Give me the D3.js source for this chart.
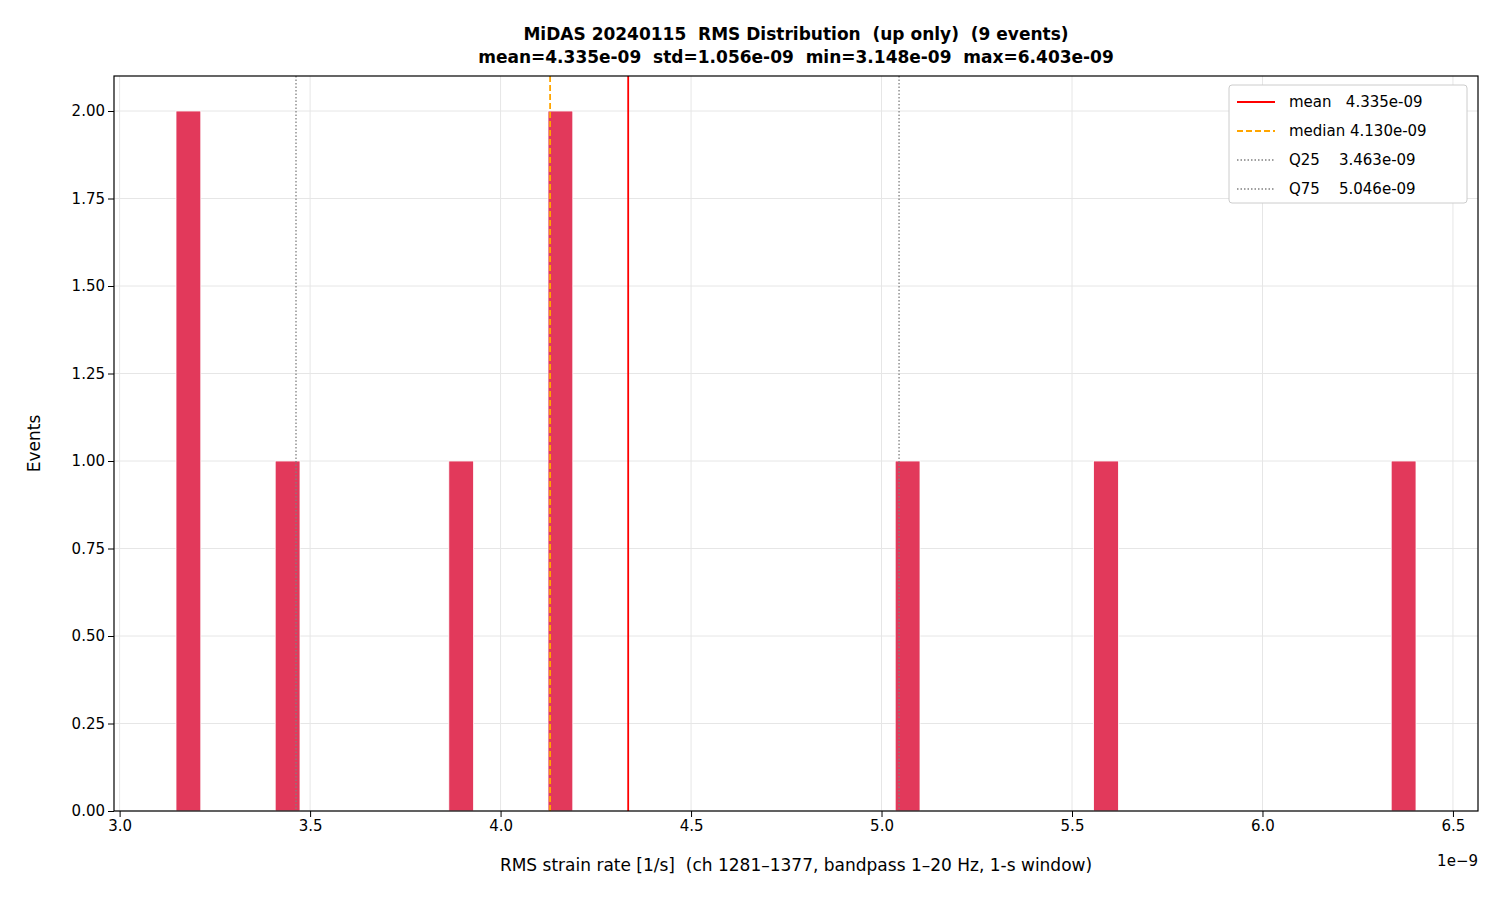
<!DOCTYPE html>
<html>
<head>
<script src="https://cdnjs.cloudflare.com/ajax/libs/d3/7.8.5/d3.min.js"></script>
<style>
body { margin: 0; background: #fff; }
text { font-family: "DejaVu Sans", sans-serif; white-space: pre; }
</style>
</head>
<body>
<svg id="chart" width="1500" height="900"></svg>
<script>
// histogram: 50 bins between min and max, nonzero bins only
var xMin = 3.148, xMax = 6.403, nBins = 50;
var binIndex = [0, 4, 11, 15, 29, 37, 49];
var binCount = [2, 1, 1, 2, 1, 1, 1];
var xTicks = [3.0, 3.5, 4.0, 4.5, 5.0, 5.5, 6.0, 6.5];
var yTicks = [0, 0.25, 0.5, 0.75, 1.0, 1.25, 1.5, 1.75, 2.0];
var refNames = ['mean', 'median', 'Q25', 'Q75'];
var refValues = [4.335, 4.130, 3.463, 5.046];

var pLeft = 114, pRight = 1478, pTop = 76, pBottom = 811;
var svg = d3.select('#chart');
var pad = (xMax - xMin) * 0.05;
var x = d3.scaleLinear().domain([xMin - pad, xMax + pad]).range([pLeft, pRight]);
var y = d3.scaleLinear().domain([0, 2.1]).range([pBottom, pTop]);
var bw = (xMax - xMin) / nBins;

// grid
svg.append('g').selectAll('line').data(xTicks).enter().append('line')
	.attr('x1', function(d) { return x(d); }).attr('x2', function(d) { return x(d); })
	.attr('y1', pTop).attr('y2', pBottom).attr('stroke', '#e6e6e6');
svg.append('g').selectAll('line').data(yTicks).enter().append('line')
	.attr('y1', function(d) { return y(d); }).attr('y2', function(d) { return y(d); })
	.attr('x1', pLeft).attr('x2', pRight).attr('stroke', '#e6e6e6');

// bars
svg.append('g').selectAll('rect').data(binIndex).enter().append('rect')
	.attr('x', function(d) { return x(xMin + d * bw); })
	.attr('width', function(d) { return x(xMin + (d + 1) * bw) - x(xMin + d * bw); })
	.attr('y', function(d, i) { return y(binCount[i]); })
	.attr('height', function(d, i) { return pBottom - y(binCount[i]); })
	.attr('fill', '#e2395b').attr('stroke', '#fff').attr('stroke-width', 0.8);

// reference lines
var refStyle = [
	{ color: '#ff0000', dash: null, w: 1.8 },
	{ color: '#ffa500', dash: '6,3', w: 1.8 },
	{ color: '#808080', dash: '1.5,2', w: 1.3 },
	{ color: '#808080', dash: '1.5,2', w: 1.3 }
];
refValues.forEach(function(v, i) {
	svg.append('line').attr('x1', x(v)).attr('x2', x(v)).attr('y1', pTop).attr('y2', pBottom)
		.attr('stroke', refStyle[i].color).attr('stroke-width', refStyle[i].w)
		.attr('stroke-dasharray', refStyle[i].dash);
});

// axes
svg.append('g').attr('transform', 'translate(0,' + pBottom + ')')
	.call(d3.axisBottom(x).tickValues(xTicks).tickFormat(d3.format('.1f')).tickSizeOuter(0))
	.call(function(g) { g.selectAll('text').attr('font-size', 15).attr('fill', '#000'); });
svg.append('g').attr('transform', 'translate(' + pLeft + ',0)')
	.call(d3.axisLeft(y).tickValues(yTicks).tickFormat(d3.format('.2f')).tickSizeOuter(0))
	.call(function(g) { g.selectAll('text').attr('font-size', 15).attr('fill', '#000'); });
svg.selectAll('.domain').remove();
svg.append('rect').attr('x', pLeft).attr('y', pTop).attr('width', pRight - pLeft).attr('height', pBottom - pTop)
	.attr('fill', 'none').attr('stroke', '#000').attr('stroke-width', 1.2);

// labels
svg.append('text').attr('x', (pLeft + pRight) / 2).attr('y', 40).attr('text-anchor', 'middle')
	.attr('font-size', 17).attr('font-weight', 'bold').text('MiDAS 20240115  RMS Distribution  (up only)  (9 events)');
svg.append('text').attr('x', (pLeft + pRight) / 2).attr('y', 63).attr('text-anchor', 'middle')
	.attr('font-size', 17).attr('font-weight', 'bold').text('mean=4.335e-09  std=1.056e-09  min=3.148e-09  max=6.403e-09');
svg.append('text').attr('x', (pLeft + pRight) / 2).attr('y', 871).attr('text-anchor', 'middle')
	.attr('font-size', 17).text('RMS strain rate [1/s]  (ch 1281\u20131377, bandpass 1\u201320 Hz, 1-s window)');
svg.append('text').attr('x', pRight).attr('y', 866).attr('text-anchor', 'end')
	.attr('font-size', 15).text('1e\u22129');
svg.append('text').attr('transform', 'translate(40,' + (pTop + pBottom) / 2 + ') rotate(-90)')
	.attr('text-anchor', 'middle').attr('font-size', 17).text('Events');

// legend
var lg = svg.append('g').attr('transform', 'translate(1229,85)');
lg.append('rect').attr('width', 238).attr('height', 118).attr('rx', 3)
	.attr('fill', '#fff').attr('stroke', '#ccc');
refNames.forEach(function(n, i) {
	var yy = 17 + i * 29;
	lg.append('line').attr('x1', 8).attr('x2', 46).attr('y1', yy).attr('y2', yy)
		.attr('stroke', refStyle[i].color).attr('stroke-width', refStyle[i].w)
		.attr('stroke-dasharray', refStyle[i].dash);
	var label = n === 'mean' ? 'mean   ' : n === 'median' ? 'median ' : n + '    ';
	lg.append('text').attr('x', 60).attr('y', yy + 5).attr('font-size', 15)
		.text(label + refValues[i].toFixed(3) + 'e-09');
});
</script>
</body>
</html>
